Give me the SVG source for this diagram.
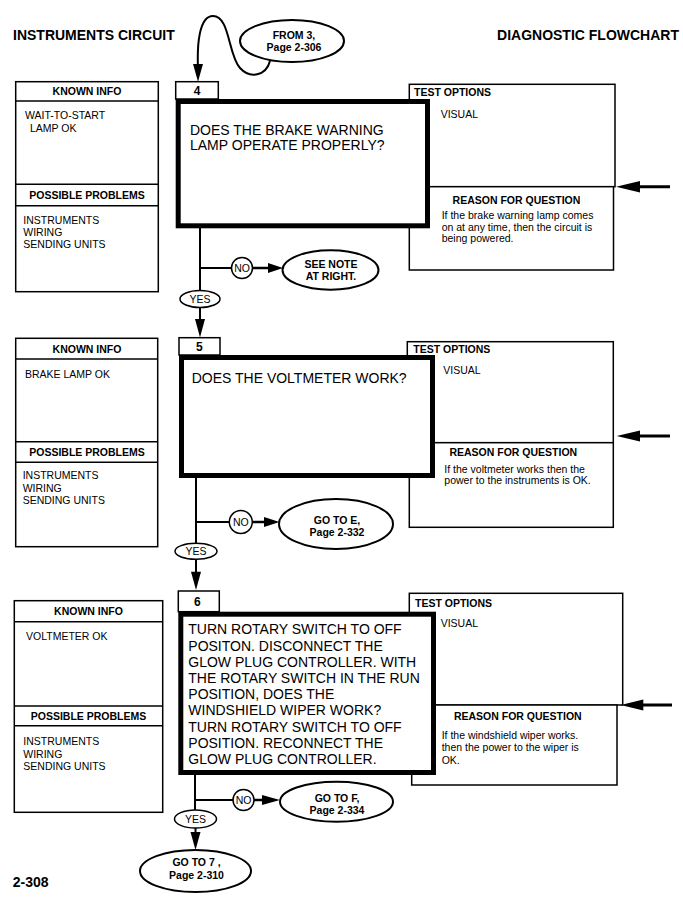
<svg xmlns="http://www.w3.org/2000/svg" width="683" height="899" viewBox="0 0 683 899">
<style>
text{font-family:"Liberation Sans",Arial,Helvetica,sans-serif;fill:#000}
.ttl{font-size:14px;font-weight:bold}
.hd{font-size:10.5px;font-weight:bold}
.tx{font-size:10.5px}
.q{font-size:14px}
.num{font-size:12px;font-weight:bold}
.el{font-size:10.5px;font-weight:bold}
.box{fill:#fff;stroke:#000;stroke-width:1.5}
.big{fill:#fff;stroke:#000;stroke-width:5}
.ln{fill:none;stroke:#000;stroke-width:1.5}
.cn{fill:none;stroke:#000;stroke-width:2}
.ov{fill:#fff;stroke:#000;stroke-width:2}
.ah{fill:#000;stroke:none}
.mid{text-anchor:middle}
</style>
<rect width="683" height="899" fill="#fff"/>
<g id="header">
<text class="ttl" x="13" y="40">INSTRUMENTS CIRCUIT</text>
<text class="ttl" x="679" y="40" text-anchor="end">DIAGNOSTIC FLOWCHART</text>
<text class="ttl" x="12.7" y="887.3">2-308</text>
</g>
<g id="from3">
<ellipse class="ov" cx="292" cy="41" rx="52" ry="21"/>
<text class="el mid" x="294" y="38.5">FROM 3,</text>
<text class="el mid" x="294" y="51">Page 2-306</text>
</g>
<!-- section 1 -->
<g id="known4">
<rect class="box" x="15.7" y="81.7" width="142.6" height="210"/>
<line class="ln" x1="15.7" y1="101" x2="158.3" y2="101"/>
<line class="ln" x1="15.7" y1="184.3" x2="158.3" y2="184.3"/>
<line class="ln" x1="15.7" y1="205.7" x2="158.3" y2="205.7"/>
<text class="hd mid" x="87" y="95.4">KNOWN INFO</text>
<text class="tx" x="25" y="119.2">WAIT-TO-START</text>
<text class="tx" x="30" y="131.8">LAMP OK</text>
<text class="hd mid" x="87" y="199.4">POSSIBLE PROBLEMS</text>
<text class="tx" x="23.3" y="223.5">INSTRUMENTS</text>
<text class="tx" x="23.3" y="235.8">WIRING</text>
<text class="tx" x="23.3" y="248.1">SENDING UNITS</text>
</g>
<g id="test4">
<rect class="box" x="409.3" y="84.3" width="205.7" height="102.4"/>
<text class="hd" x="414" y="96">TEST OPTIONS</text>
<text class="tx" x="440.7" y="118">VISUAL</text>
</g>
<g id="reason4">
<rect class="box" x="409.3" y="186.7" width="204.2" height="83.3"/>
<text class="hd mid" x="516.5" y="204">REASON FOR QUESTION</text>
<text class="tx" x="441.7" y="219.4">If the brake warning lamp comes</text>
<text class="tx" x="441.7" y="230.7">on at any time, then the circuit is</text>
<text class="tx" x="441.7" y="242">being powered.</text>
</g>
<g id="step4">
<rect class="box" x="175.7" y="81.7" width="42.6" height="17.3"/>
<text class="num mid" x="197" y="94.7">4</text>
<rect class="big" x="178.2" y="101.5" width="249.3" height="124.3"/>
<text class="q" x="190" y="135">DOES THE BRAKE WARNING</text>
<text class="q" x="190" y="150">LAMP OPERATE PROPERLY?</text>
</g>
<g id="no4">
<circle class="ov" cx="242" cy="268" r="10.5" style="stroke-width:1.5"/>
<text class="tx mid" x="242" y="271.7">NO</text>
</g>
<g id="seenote">
<ellipse class="ov" cx="330.5" cy="270" rx="48" ry="19.7"/>
<text class="el mid" x="331" y="268">SEE NOTE</text>
<text class="el mid" x="331" y="280">AT RIGHT.</text>
</g>
<g id="yes4">
<ellipse class="ov" cx="200" cy="299" rx="20" ry="8.5" style="stroke-width:1.5"/>
<text class="tx mid" x="200" y="302.7">YES</text>
</g>
<!-- section 2 -->
<g id="known5">
<rect class="box" x="15.7" y="338.3" width="142" height="208.4"/>
<line class="ln" x1="15.7" y1="359" x2="157.7" y2="359"/>
<line class="ln" x1="15.7" y1="441.7" x2="157.7" y2="441.7"/>
<line class="ln" x1="15.7" y1="462.3" x2="157.7" y2="462.3"/>
<text class="hd mid" x="87" y="353">KNOWN INFO</text>
<text class="tx" x="25" y="377.5">BRAKE LAMP OK</text>
<text class="hd mid" x="87" y="455.7">POSSIBLE PROBLEMS</text>
<text class="tx" x="22.7" y="479.3">INSTRUMENTS</text>
<text class="tx" x="22.7" y="491.8">WIRING</text>
<text class="tx" x="22.7" y="504.3">SENDING UNITS</text>
</g>
<g id="test5">
<rect class="box" x="407.3" y="341.7" width="206" height="101"/>
<text class="hd" x="413.3" y="353">TEST OPTIONS</text>
<text class="tx" x="443.3" y="374.4">VISUAL</text>
</g>
<g id="reason5">
<rect class="box" x="409.3" y="442.7" width="204" height="84.6"/>
<text class="hd mid" x="513.3" y="456.4">REASON FOR QUESTION</text>
<text class="tx" x="444.3" y="473">If the voltmeter works then the</text>
<text class="tx" x="444.3" y="484.4">power to the instruments is OK.</text>
</g>
<g id="step5">
<rect class="box" x="179" y="337.7" width="41" height="17.3"/>
<text class="num mid" x="199.3" y="350.5">5</text>
<rect class="big" x="181.5" y="357.5" width="251" height="118"/>
<text class="q" x="191.7" y="383">DOES THE VOLTMETER WORK?</text>
</g>
<g id="no5">
<circle class="ov" cx="240.8" cy="522" r="11.5" style="stroke-width:1.5"/>
<text class="tx mid" x="240.8" y="525.7">NO</text>
</g>
<g id="gotoE">
<ellipse class="ov" cx="336" cy="524" rx="57" ry="25"/>
<text class="el mid" x="337" y="523.7">GO TO E,</text>
<text class="el mid" x="337" y="536">Page 2-332</text>
</g>
<g id="yes5">
<ellipse class="ov" cx="196" cy="551.3" rx="21" ry="8" style="stroke-width:1.5"/>
<text class="tx mid" x="196" y="555">YES</text>
</g>
<!-- section 3 -->
<g id="known6">
<rect class="box" x="14.3" y="600.7" width="148.4" height="211.6"/>
<line class="ln" x1="14.3" y1="621.7" x2="162.7" y2="621.7"/>
<line class="ln" x1="14.3" y1="706" x2="162.7" y2="706"/>
<line class="ln" x1="14.3" y1="725.7" x2="162.7" y2="725.7"/>
<text class="hd mid" x="88.5" y="615.4">KNOWN INFO</text>
<text class="tx" x="26" y="639.6">VOLTMETER OK</text>
<text class="hd mid" x="88.5" y="719.7">POSSIBLE PROBLEMS</text>
<text class="tx" x="23.3" y="745.4">INSTRUMENTS</text>
<text class="tx" x="23.3" y="757.7">WIRING</text>
<text class="tx" x="23.3" y="770">SENDING UNITS</text>
</g>
<g id="test6">
<rect class="box" x="409.3" y="593.3" width="213.4" height="111.7"/>
<text class="hd" x="415" y="607">TEST OPTIONS</text>
<text class="tx" x="440.7" y="627">VISUAL</text>
</g>
<g id="reason6">
<rect class="box" x="411.7" y="705" width="205.3" height="80"/>
<text class="hd mid" x="517.8" y="720.4">REASON FOR QUESTION</text>
<text class="tx" x="441.7" y="738.5">If the windshield wiper works.</text>
<text class="tx" x="441.7" y="751">then the power to the wiper is</text>
<text class="tx" x="441.7" y="763.5">OK.</text>
</g>
<g id="step6">
<rect class="box" x="178.3" y="591" width="41" height="20.7"/>
<text class="num mid" x="197.3" y="605.7">6</text>
<rect class="big" x="180.8" y="614.2" width="252.7" height="158.3"/>
<text class="q" x="188.3" y="634.3">TURN ROTARY SWITCH TO OFF</text>
<text class="q" x="188.3" y="650.5">POSITON. DISCONNECT THE</text>
<text class="q" x="188.3" y="666.7">GLOW PLUG CONTROLLER. WITH</text>
<text class="q" x="188.3" y="682.9">THE ROTARY SWITCH IN THE RUN</text>
<text class="q" x="188.3" y="699.1">POSITION, DOES THE</text>
<text class="q" x="188.3" y="715.3">WINDSHIELD WIPER WORK?</text>
<text class="q" x="188.3" y="731.5">TURN ROTARY SWITCH TO OFF</text>
<text class="q" x="188.3" y="747.7">POSITION. RECONNECT THE</text>
<text class="q" x="188.3" y="763.9">GLOW PLUG CONTROLLER.</text>
</g>
<g id="no6">
<circle class="ov" cx="243.5" cy="800" r="10.5" style="stroke-width:1.5"/>
<text class="tx mid" x="243.5" y="803.7">NO</text>
</g>
<g id="gotoF">
<ellipse class="ov" cx="336.5" cy="801.7" rx="56.5" ry="20"/>
<text class="el mid" x="337" y="802">GO TO F,</text>
<text class="el mid" x="337" y="813.7">Page 2-334</text>
</g>
<g id="yes6">
<ellipse class="ov" cx="195.5" cy="819" rx="21" ry="9" style="stroke-width:1.5"/>
<text class="tx mid" x="195.5" y="822.7">YES</text>
</g>
<g id="goto7">
<ellipse class="ov" cx="195.5" cy="871" rx="55.5" ry="21"/>
<text class="el mid" x="196.5" y="865.5">GO TO 7 ,</text>
<text class="el mid" x="196.5" y="878.7">Page 2-310</text>
</g>
<g id="connectors">
<path class="cn" d="M198 68 C197 45 199 16 213 16 C230 16 228 55 240 68 C250 79 266 76 270 61"/>
<polygon class="ah" points="198,81.7 193,64 203,64"/>
<line class="cn" x1="200" y1="228" x2="200" y2="290.5"/>
<line class="cn" x1="200" y1="268" x2="231.5" y2="268"/>
<line class="cn" x1="252.5" y1="268" x2="272" y2="268" style="stroke-width:2.5"/>
<polygon class="ah" points="283,268 268,263 268,273"/>
<line class="cn" x1="200" y1="307.5" x2="200" y2="322"/>
<polygon class="ah" points="200,337.5 195,319 205,319"/>
<line class="cn" x1="670" y1="186.7" x2="636" y2="186.7" style="stroke-width:3"/>
<polygon class="ah" points="616,186.7 640,181 640,192.4"/>
<line class="cn" x1="196" y1="478" x2="196" y2="543.3"/>
<line class="cn" x1="196" y1="522" x2="229.3" y2="522"/>
<line class="cn" x1="252.3" y1="522" x2="268" y2="522" style="stroke-width:2.5"/>
<polygon class="ah" points="279.5,522 264,517 264,527"/>
<line class="cn" x1="196" y1="559.3" x2="196" y2="574"/>
<polygon class="ah" points="196,590 191,571.7 201,571.7"/>
<line class="cn" x1="670" y1="436" x2="636" y2="436" style="stroke-width:3"/>
<polygon class="ah" points="616.7,436 640,430.5 640,441.5"/>
<line class="cn" x1="195" y1="775" x2="195" y2="810"/>
<line class="cn" x1="195" y1="800" x2="233" y2="800"/>
<line class="cn" x1="254" y1="800" x2="268" y2="800" style="stroke-width:2.5"/>
<polygon class="ah" points="280,800 262,795 262,805"/>
<line class="cn" x1="195.5" y1="828" x2="195.5" y2="836"/>
<polygon class="ah" points="195.5,850 190.5,832 200.5,832"/>
<line class="cn" x1="672" y1="705" x2="640" y2="705" style="stroke-width:3"/>
<polygon class="ah" points="620.7,705 643.3,699.5 643.3,710.5"/>
</g>
</svg>
